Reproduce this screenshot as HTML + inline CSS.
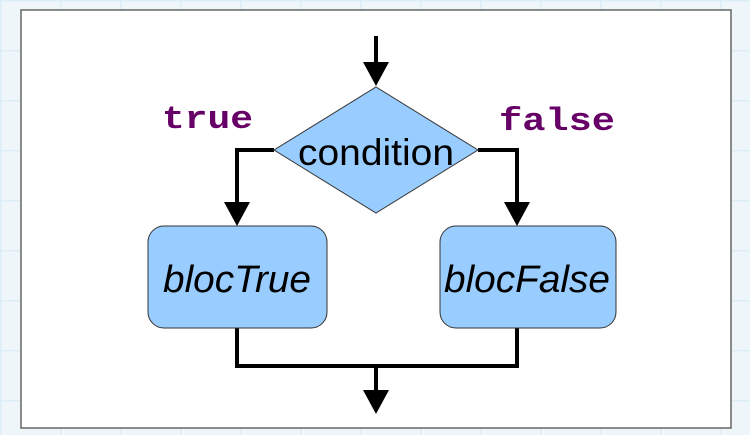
<!DOCTYPE html>
<html><head><style>
html,body{margin:0;padding:0;width:750px;height:435px;overflow:hidden;background:#eef6fa;}
</style></head><body>
<svg width="750" height="435" viewBox="0 0 750 435" xmlns="http://www.w3.org/2000/svg">
<defs>
<pattern id="g" width="60" height="50" patternUnits="userSpaceOnUse">
<path d="M0 0H60M0 0V50" stroke="#dcedf5" stroke-width="3" fill="none"/>
</pattern>
</defs>
<rect width="750" height="435" fill="url(#g)"/>
<rect x="21" y="10" width="710" height="418" fill="#fff" stroke="#666" stroke-width="1.5"/>
<g stroke="#000" stroke-width="4" fill="none">
<path d="M376 36V64"/>
<path d="M274 150H237V205"/>
<path d="M478 150H517V205"/>
<path d="M237 328V366H517V328"/>
<path d="M376 366V392"/>
</g>
<g fill="#000">
<path d="M363 62H389L376 86Z"/>
<path d="M224 202H250L237 226Z"/>
<path d="M504 202H530L517 226Z"/>
<path d="M363 390H389L376 414Z"/>
</g>
<path d="M376 87L478 150L376 213L274 150Z" fill="#99ccff" stroke="#333" stroke-width="1"/>
<rect x="148" y="226" width="179" height="102" rx="16" fill="#99ccff" stroke="#333" stroke-width="1"/>
<rect x="440" y="226" width="176" height="102" rx="16" fill="#99ccff" stroke="#333" stroke-width="1"/>
<g font-family="Liberation Sans, sans-serif" text-anchor="middle" fill="#000">
<text x="376" y="165" font-size="37" textLength="156" lengthAdjust="spacingAndGlyphs">condition</text>
<text x="237" y="292" font-size="38" font-style="italic" textLength="148" lengthAdjust="spacingAndGlyphs">blocTrue</text>
<text x="527" y="292" font-size="38" font-style="italic" textLength="166" lengthAdjust="spacingAndGlyphs">blocFalse</text>
</g>
<g font-family="Liberation Mono, monospace" font-size="32" font-weight="bold" fill="#660066">
<text x="162" y="128" textLength="91" lengthAdjust="spacingAndGlyphs">true</text>
<text x="499" y="130" textLength="116" lengthAdjust="spacingAndGlyphs">false</text>
</g>
</svg>
</body></html>
